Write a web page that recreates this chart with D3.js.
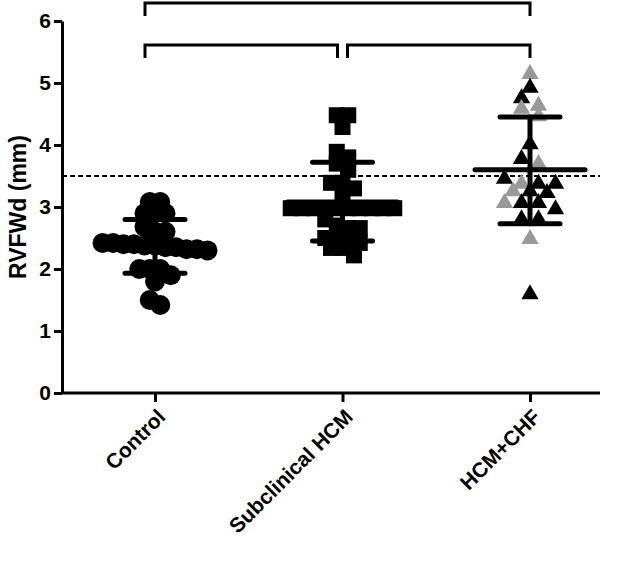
<!DOCTYPE html><html><head><script src="https://cdn.jsdelivr.net/npm/d3@7"></script>
<style>body{margin:0;background:#fff}text{font-family:Arial,"Liberation Sans",sans-serif;font-weight:bold}</style></head><body><svg id="c" width="620" height="573"></svg>
<script>
const categories=["Control","Subclinical HCM","HCM+CHF"];
const controlVals=[3.08,3.08,2.9,2.9,2.9,2.6,2.6,2.68,2.42,2.4,2.38,2.35,2.32,2.3,2.32,2.35,2.38,2.4,2.42,2.0,1.9,1.8,2.0,2.0,1.42,1.5];
const subVals=[4.48,4.48,4.29,3.89,3.8,3.7,3.6,3.39,3.39,3.3,3.15,2.98,2.98,2.98,2.98,2.98,2.98,2.98,2.98,2.98,2.98,2.8,2.7,2.66,2.66,2.5,2.42,2.34,2.22,2.34,2.42,2.5];
const chfGray=[5.16,4.65,4.48,4.6,3.71,3.39,3.27,3.08,2.5];
const chfBlack=[4.94,4.77,4.03,3.79,3.39,3.24,3.27,3.39,3.47,3.08,2.98,3.08,2.82,2.82,1.61];
const means=[2.35,3.08,3.6];
const sdLow=[1.93,2.45,2.73];
const sdHigh=[2.8,3.72,4.45];
const yTicks=[0,1,2,3,4,5,6];
const cutoff=3.5;
const svg=d3.select("#c");
const y=d3.scaleLinear().domain([0,6]).range([393,21]);
const x=d3.scalePoint().domain(categories).range([155,530]);
const ax=svg.append("g").attr("transform","translate(62,0)").call(d3.axisLeft(y).tickValues(yTicks).tickFormat(d3.format("d")).tickSize(8).tickSizeOuter(0));
ax.select(".domain").attr("stroke-width",3);ax.selectAll(".tick line").attr("stroke-width",3);
ax.selectAll("text").attr("font-size",21).attr("x",-11).attr("font-family","Arial").attr("font-weight","bold");
const bx=svg.append("g").attr("transform","translate(0,393)").call(d3.axisBottom(x).tickSize(9).tickSizeOuter(0));
bx.select(".domain").attr("d","M62,0H600").attr("stroke-width",3);bx.selectAll(".tick line").attr("stroke-width",3);
bx.selectAll("text").attr("font-size",21).attr("font-family","Arial").attr("font-weight","bold").attr("text-anchor","end").attr("dy","0.35em").attr("transform","translate(6,20) rotate(-45)").attr("x",0).attr("y",0);
svg.append("text").attr("transform","translate(18,207) rotate(-90)").attr("text-anchor","middle").attr("dy","0.35em").attr("font-size",23).text("RVFWd (mm)");
svg.append("line").attr("x1",62).attr("x2",600).attr("y1",y(cutoff)).attr("y2",y(cutoff)).attr("stroke","#000").attr("stroke-width",2).attr("stroke-dasharray","5,3");
function swarm(vals,cx,rowH,sp){const pts=vals.map((v,i)=>({v,i,y:y(v)})).sort((a,b)=>a.y-b.y);const rows=[];
pts.forEach(p=>{const r=rows[rows.length-1];if(r&&p.y-r[0].y<rowH)r.push(p);else rows.push([p]);});
rows.forEach(r=>r.forEach((p,j)=>p.x=cx+(j-(r.length-1)/2)*sp));return pts;}
swarm(controlVals,x("Control"),10,10.5).forEach(p=>svg.append("circle").attr("cx",p.x).attr("cy",p.y).attr("r",10).attr("fill","#000"));
swarm(subVals,x("Subclinical HCM"),9,11.5).forEach(p=>svg.append("rect").attr("x",p.x-8).attr("y",p.y-8).attr("width",16).attr("height",16).attr("fill","#000"));
const tri=d3.symbol().type(d3.symbolTriangle).size(130);
const allChf=chfGray.map(v=>({v,c:"#999"})).concat(chfBlack.map(v=>({v,c:"#000"})));
swarm(allChf.map(d=>d.v),x("HCM+CHF"),9,17).forEach(p=>svg.append("path").attr("d",tri).attr("transform",`translate(${p.x},${p.y+1})`).attr("fill",allChf[p.i].c));
categories.forEach((c,i)=>{const cx=x(c);const g=svg.append("g").attr("stroke","#000").attr("stroke-linecap","round");
g.append("line").attr("x1",cx).attr("x2",cx).attr("y1",y(sdLow[i])).attr("y2",y(sdHigh[i])).attr("stroke-width",5);
[sdLow[i],sdHigh[i]].forEach(v=>g.append("line").attr("x1",cx-30).attr("x2",cx+30).attr("y1",y(v)).attr("y2",y(v)).attr("stroke-width",5));
g.append("line").attr("x1",cx-55).attr("x2",cx+55).attr("y1",y(means[i])).attr("y2",y(means[i])).attr("stroke-width",5);});
const br=[[0,2,3],[0,1,45],[1,2,45]];
br.forEach(([a,b,yy])=>{let x1=x(categories[a])-10,x2=x(categories[b]);if(b===1)x2-=5;if(a===1)x1+=15;
svg.append("path").attr("d",`M${x1},${yy+13}V${yy}H${x2}V${yy+13}`).attr("fill","none").attr("stroke","#000").attr("stroke-width",3);});
</script></body></html>
